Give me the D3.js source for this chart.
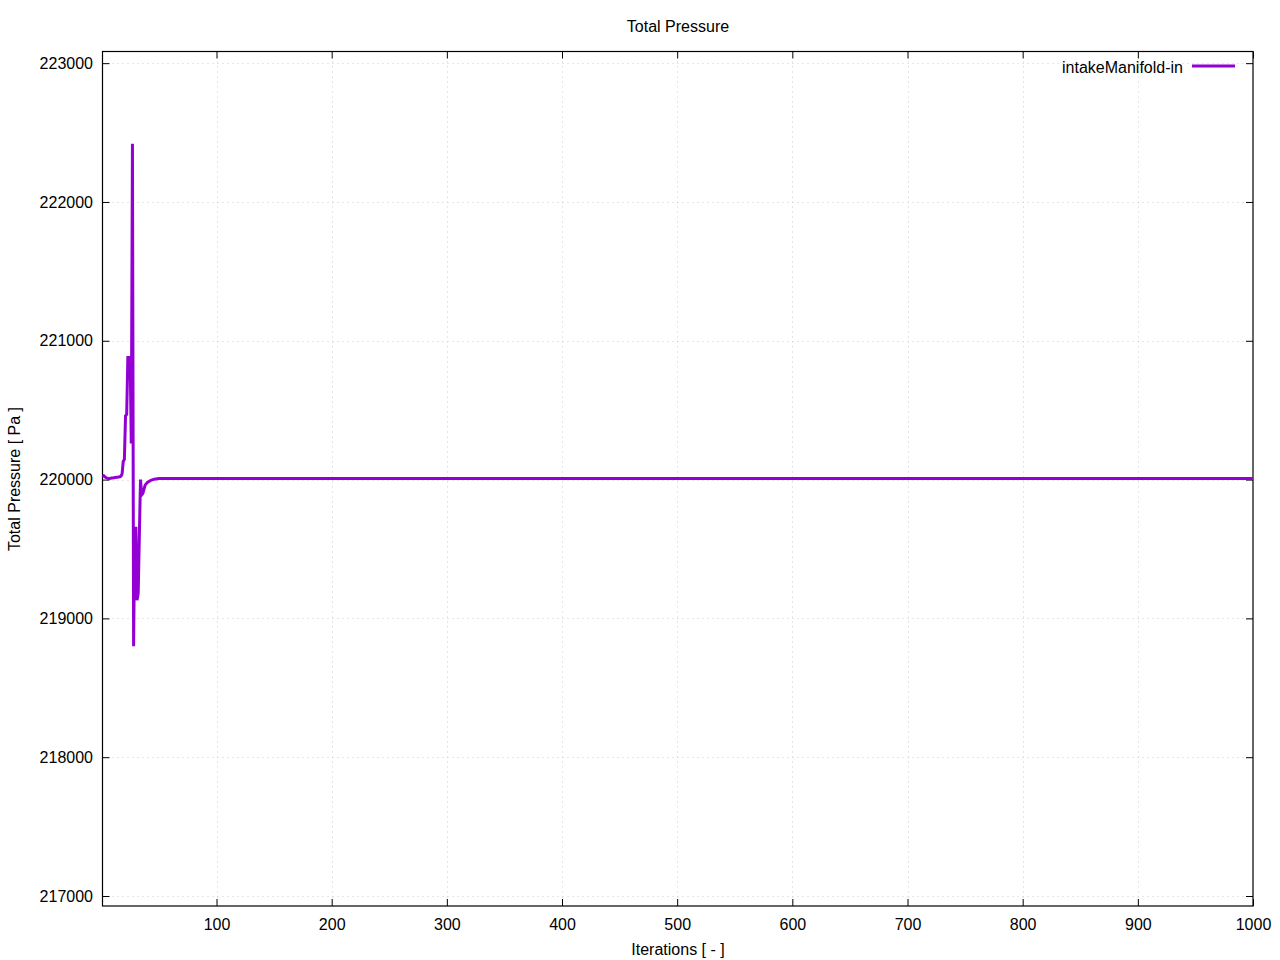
<!DOCTYPE html>
<html>
<head>
<meta charset="utf-8">
<script src="https://cdn.jsdelivr.net/npm/d3@7"></script>
<style>
  html, body { margin: 0; padding: 0; background: #fff; }
  svg { display: block; font-family: "Liberation Sans", Arial, sans-serif; }
</style>
</head>
<body>
<svg id="chart" width="1280" height="960"></svg>
<script>
// ---- data ----
const iterations = [1,2,3,4,5,6,7,8,9,10,11,12,13,14,15,16,17,18,19,20,21,22,23,24,25,26,27,28,29,30,31,32,33,34,35,36,37,38,40,43,46,50,
  100,150,200,250,300,350,400,450,500,550,600,650,700,750,800,850,900,950,1000];
const pressure = [220030,220028,220020,220015,220010,220008,220008,220010,220012,220012,220014,220015,220016,220017,220018,220020,220025,220040,
  220130,220145,220460,220470,220880,220880,220880,220260,222420,218800,219650,219650,219130,219180,219600,220000,219890,219900,219930,219960,219980,219995,220003,220008,
  220008,220008,220008,220008,220008,220008,220008,220008,220008,220008,220008,220008,220008,220008,220008,220008,220008,220008,220008];
const xTicks = [100,200,300,400,500,600,700,800,900,1000];
const yTicks = [217000,218000,219000,220000,221000,222000,223000];
const seriesName = "intakeManifold-in";
const chartTitle = "Total Pressure";
const xLabel = "Iterations [ - ]";
const yLabel = "Total Pressure [ Pa ]";

// ---- layout ----
const mLeft = 102.5, mRight = 1253, mTop = 51.5, mBottom = 906;
const svg = d3.select("#chart");

const x = d3.scaleLinear().domain([1, 1000]).range([mLeft, mRight]);
const y = d3.scaleLinear().domain([216928, 223084]).range([mBottom, mTop]);

// grid
const grid = svg.append("g").attr("stroke", "#cccccc").attr("stroke-width", 1).attr("stroke-dasharray", "1,4");
xTicks.filter(t => t < 1000).forEach(t => {
  grid.append("line").attr("x1", Math.round(x(t)) + 0.5).attr("x2", Math.round(x(t)) + 0.5)
    .attr("y1", mTop).attr("y2", mBottom);
});
yTicks.forEach(t => {
  grid.append("line").attr("x1", mLeft).attr("x2", mRight)
    .attr("y1", Math.round(y(t)) + 0.5).attr("y2", Math.round(y(t)) + 0.5);
});

// axes via d3
const tickLen = 7;
const xAxis = d3.axisBottom(x).tickValues(xTicks).tickSize(-tickLen).tickPadding(13).tickFormat(d3.format("d"));
const yAxis = d3.axisLeft(y).tickValues(yTicks).tickSize(-tickLen).tickPadding(9.5).tickFormat(d3.format("d"));
const xTopAxis = d3.axisTop(x).tickValues(xTicks).tickSize(-tickLen).tickFormat("");
const yRightAxis = d3.axisRight(y).tickValues(yTicks).tickSize(-tickLen).tickFormat("");

function style(g) {
  g.select(".domain").remove();
  g.selectAll(".tick line").attr("stroke", "#000").attr("stroke-width", 1);
  g.selectAll(".tick text").attr("fill", "#000").attr("font-size", "16px")
    .attr("font-family", "'Liberation Sans', Arial, sans-serif");
}
svg.append("g").attr("transform", `translate(0,${mBottom})`).call(xAxis).call(style);
svg.append("g").attr("transform", `translate(${mLeft},0)`).call(yAxis).call(style);
svg.append("g").attr("transform", `translate(0,${mTop})`).call(xTopAxis).call(style);
svg.append("g").attr("transform", `translate(${mRight},0)`).call(yRightAxis).call(style);

// border
svg.append("rect").attr("x", mLeft).attr("y", mTop).attr("width", mRight - mLeft).attr("height", mBottom - mTop)
  .attr("fill", "none").attr("stroke", "#000").attr("stroke-width", 1.2);

// line
const line = d3.line().x((d, i) => x(iterations[i])).y(d => y(d));
svg.append("path").datum(pressure)
  .attr("fill", "none").attr("stroke", "#9400d3").attr("stroke-width", 3)
  .attr("stroke-linejoin", "miter").attr("stroke-miterlimit", 10)
  .attr("d", line);

// legend
svg.append("text").attr("x", 1183).attr("y", 73).attr("text-anchor", "end")
  .attr("font-size", "16px").attr("fill", "#000").text(seriesName);
svg.append("line").attr("x1", 1192).attr("x2", 1235).attr("y1", 66).attr("y2", 66)
  .attr("stroke", "#9400d3").attr("stroke-width", 3);

// titles
svg.append("text").attr("x", 678).attr("y", 32).attr("text-anchor", "middle")
  .attr("font-size", "16px").attr("fill", "#000").text(chartTitle);
svg.append("text").attr("x", 678).attr("y", 955).attr("text-anchor", "middle")
  .attr("font-size", "16px").attr("fill", "#000").text(xLabel);
svg.append("text").attr("transform", "translate(20,479) rotate(-90)").attr("text-anchor", "middle")
  .attr("font-size", "16px").attr("fill", "#000").text(yLabel);
</script>
</body>
</html>
